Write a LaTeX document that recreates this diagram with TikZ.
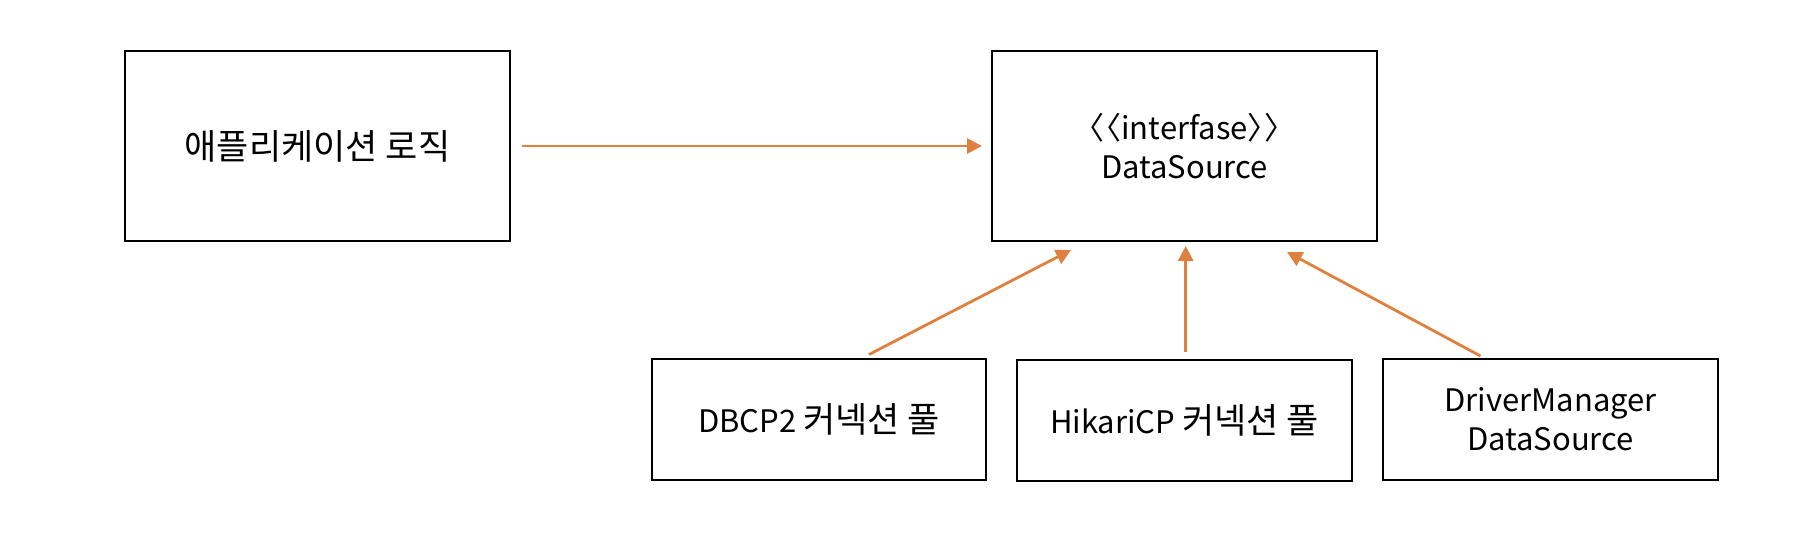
\documentclass[tikz,border=0pt]{standalone}
\usepackage{fontspec}
\setmainfont{Noto Sans CJK KR}
\usetikzlibrary{arrows.meta}
\definecolor{arr}{HTML}{E0803F}
\newcommand{\kortext}[1]{{\fontsize{17.5}{19.5}\selectfont #1}}
\tikzset{
  box/.style={draw=black, line width=1pt, rectangle, align=center, inner sep=0pt,
    font=\fontsize{15.5}{19.5}\selectfont},
  link/.style={draw=arr, line width=1.4pt, -{Triangle[length=7.5pt,width=7.5pt]}}
}
\begin{document}
\begin{tikzpicture}[x=0.5pt,y=-0.5pt]
\useasboundingbox (0,0) rectangle (1816,542);
\node[box, minimum width=192.5pt, minimum height=95pt] (app) at (317.5,146) {\kortext{애플리케이션 로직}};
\node[box, minimum width=192.5pt, minimum height=95pt] (ds) at (1184.5,146) {〈\hspace{-0.45em}〈interfase〉\hspace{-0.45em}〉\\DataSource};
\node[box, minimum width=167pt, minimum height=60.5pt] (dbcp) at (819,419) {DBCP2 \kortext{커넥션 풀}};
\node[box, minimum width=167.5pt, minimum height=60.5pt] (hik) at (1184.5,420.5) {HikariCP \kortext{커넥션 풀}};
\node[box, minimum width=167.5pt, minimum height=60.5pt] (dm) at (1550.5,419.5) {DriverManager\\DataSource};
\draw[link, shorten <=5.5pt, shorten >=4.5pt] (app.east) -- (ds.west);
\draw[link] ([xshift=25pt,yshift=1.5pt]dbcp.north) -- ([xshift=-56.75pt,yshift=-4pt]ds.south);
\draw[link] ([xshift=0.6pt,yshift=3.5pt]hik.north) -- ([xshift=0.6pt,yshift=-2pt]ds.south);
\draw[link] ([xshift=-35pt,yshift=1pt]dm.north) -- ([xshift=51.25pt,yshift=-5pt]ds.south);
\end{tikzpicture}
\end{document}
